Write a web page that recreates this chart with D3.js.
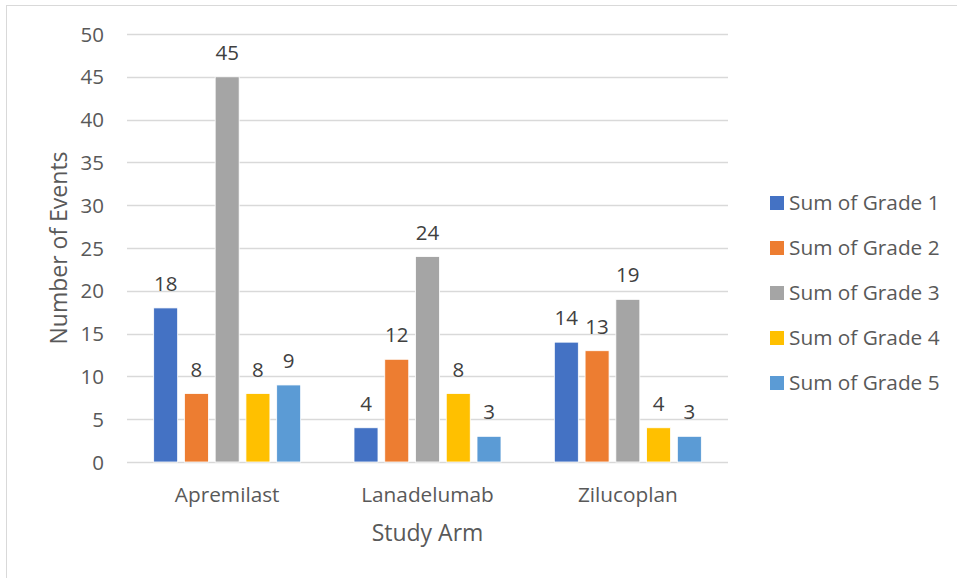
<!DOCTYPE html>
<html>
<head>
<meta charset="utf-8">
<script src="https://cdn.jsdelivr.net/npm/d3@7"></script>
<style>
  html, body { margin: 0; padding: 0; background: #fff; }
  svg text { font-family: "Open Sans", "Noto Sans", sans-serif; }
</style>
</head>
<body>
<svg id="chart" width="957" height="578"></svg>
<script>
// Study arms along the x axis
const studyArms = ["Apremilast", "Lanadelumab", "Zilucoplan"];
// Series names (one bar per grade within each arm)
const seriesNames = ["Sum of Grade 1", "Sum of Grade 2", "Sum of Grade 3", "Sum of Grade 4", "Sum of Grade 5"];
// Event counts per grade, in study-arm order
const grade1 = [18, 4, 14];
const grade2 = [8, 12, 13];
const grade3 = [45, 24, 19];
const grade4 = [8, 8, 4];
const grade5 = [9, 3, 3];
const seriesColors = ["#4472C4", "#ED7D31", "#A5A5A5", "#FFC000", "#5B9BD5"];
const yTicks = [0, 5, 10, 15, 20, 25, 30, 35, 40, 45, 50];

const seriesValues = [grade1, grade2, grade3, grade4, grade5];

const svg = d3.select("#chart");
const W = 957, H = 578;

// Outer chart frame
svg.append("rect")
  .attr("x", 6.5).attr("y", 5.5)
  .attr("width", W + 10).attr("height", H + 10)
  .attr("fill", "#fff").attr("stroke", "#d9d9d9").attr("stroke-width", 1);

const plot = { left: 127, right: 728, top: 34, bottom: 462 };

const y = d3.scaleLinear().domain([0, 50]).range([plot.bottom, plot.top]);
const x0 = d3.scaleBand().domain(studyArms).range([plot.left, plot.right]).padding(0);
const groupHalf = 73.5;
const x1 = d3.scaleBand().domain(seriesNames).range([-groupHalf, groupHalf])
  .paddingInner(0.22).paddingOuter(0);

// Horizontal gridlines
svg.append("g")
  .selectAll("line")
  .data(yTicks)
  .join("line")
  .attr("x1", plot.left).attr("x2", plot.right)
  .attr("y1", d => Math.round(y(d)) + 0.5).attr("y2", d => Math.round(y(d)) + 0.5)
  .attr("stroke", "#d9d9d9").attr("stroke-width", 1.3);

// Y axis tick labels
const yAxis = d3.axisLeft(y).tickValues(yTicks).tickSize(0).tickPadding(0);
const yg = svg.append("g").attr("transform", `translate(${plot.left - 23},0)`).call(yAxis);
yg.select(".domain").remove();
yg.selectAll("text")
  .attr("font-size", 20.5).attr("fill", "#595959")
  .attr("font-family", "'Open Sans', sans-serif")
  .attr("dy", "0.35em");

// X axis category labels
const xAxis = d3.axisBottom(x0).tickSize(0).tickPadding(0);
const xg = svg.append("g").attr("transform", `translate(0,${plot.bottom})`).call(xAxis);
xg.select(".domain").remove();
xg.selectAll("text")
  .attr("font-size", 20.8).attr("fill", "#595959")
  .attr("font-family", "'Open Sans', sans-serif")
  .attr("dy", null).attr("y", 40);

// Grouped bars
const groups = svg.append("g")
  .selectAll("g")
  .data(studyArms)
  .join("g")
  .attr("transform", d => `translate(${x0(d) + x0.bandwidth() / 2},0)`);

groups.selectAll("rect")
  .data((arm, i) => seriesNames.map((s, j) => ({ s, j, v: seriesValues[j][i] })))
  .join("rect")
  .attr("x", d => x1(d.s))
  .attr("width", x1.bandwidth())
  .attr("y", d => y(d.v))
  .attr("height", d => y(0) - y(d.v))
  .attr("fill", d => seriesColors[d.j])
  .attr("stroke", "#fff").attr("stroke-width", 0.8);

// Value labels above each bar
groups.selectAll("text.val")
  .data((arm, i) => seriesNames.map((s, j) => ({ s, j, v: seriesValues[j][i] })))
  .join("text")
  .attr("class", "val")
  .attr("x", d => x1(d.s) + x1.bandwidth() / 2)
  .attr("y", d => y(d.v) - 17)
  .attr("text-anchor", "middle")
  .attr("font-size", 20.5).attr("fill", "#404040")
  .text(d => d.v);

// Axis titles
svg.append("text")
  .attr("x", (plot.left + plot.right) / 2).attr("y", 541)
  .attr("text-anchor", "middle")
  .attr("font-size", 23).attr("fill", "#595959")
  .text("Study Arm");

svg.append("text")
  .attr("transform", `translate(67,${(plot.top + plot.bottom) / 2}) rotate(-90)`)
  .attr("text-anchor", "middle")
  .attr("font-size", 23).attr("fill", "#595959")
  .text("Number of Events");

// Legend
const legend = svg.append("g")
  .selectAll("g")
  .data(seriesNames)
  .join("g")
  .attr("transform", (d, i) => `translate(770,${203 + i * 45})`);

legend.append("rect")
  .attr("x", 0).attr("y", -7).attr("width", 14).attr("height", 14)
  .attr("fill", (d, i) => seriesColors[i]);

legend.append("text")
  .attr("x", 19).attr("y", 0).attr("dy", "0.35em")
  .attr("font-size", 20.8).attr("fill", "#595959")
  .text(d => d);
</script>
</body>
</html>
